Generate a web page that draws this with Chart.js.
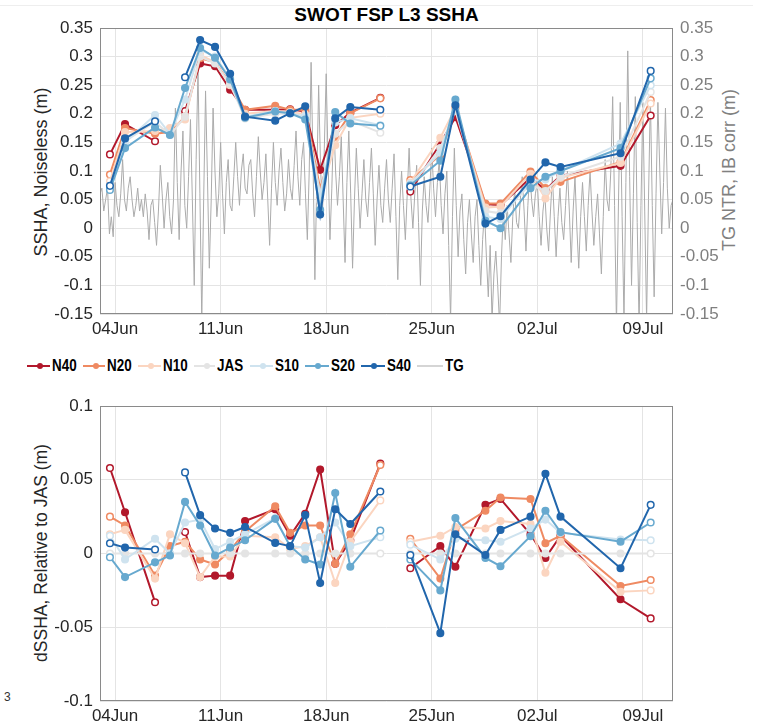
<!DOCTYPE html>
<html>
<head>
<meta charset="utf-8">
<script src="https://cdn.jsdelivr.net/npm/chart.js@4.4.1/dist/chart.umd.min.js"></script>
<style>
  body{margin:0;width:758px;height:728px;background:#fff;position:relative;overflow:hidden;font-family:"Liberation Sans",Arial,sans-serif;}
  canvas{position:absolute;left:0;}
  #c1{top:0;}
  #c2{top:380px;}
  .title{position:absolute;top:4px;left:100px;width:573px;text-align:center;font-weight:bold;font-size:19px;color:#000;line-height:22px;}
  .ylab{position:absolute;width:320px;height:22px;line-height:22px;text-align:center;white-space:nowrap;font-size:18px;transform:rotate(-90deg);}
  .legend{position:absolute;top:356px;left:27px;height:20px;display:flex;}
  .li{width:55.7px;display:flex;align-items:center;height:20px;}
  .li span{display:inline-block;font-family:"Liberation Sans",Arial,sans-serif;font-weight:bold;font-size:17px;color:#000;margin-left:2px;transform:scaleX(0.79);transform-origin:left center;}
  .topline{position:absolute;top:5px;left:0;width:753px;height:1px;background:#eeeeee;}
  .stray{position:absolute;left:4px;top:690px;font-size:12px;color:#333;}
</style>
</head>
<body>
<div class="topline"></div>
<div class="title">SWOT FSP L3 SSHA</div>
<div class="ylab" style="left:-119px;top:161px;color:#262626;">SSHA, Noiseless (m)</div>
<div class="ylab" style="left:569px;top:159px;color:#808080;">TG NTR, IB corr (m)</div>
<div class="ylab" style="left:-119px;top:542px;color:#262626;font-size:17.5px;">dSSHA, Relative to JAS (m)</div>
<div class="legend" id="legend"></div>
<div class="stray">3</div>
<canvas id="c1" width="758" height="345"></canvas>
<canvas id="c2" width="758" height="348"></canvas>
<script>
// ---------------- DATA ----------------
// x axis: days since 03 Jun 00:00
const dateTickDays   = [1, 8, 15, 22, 29, 36];
const dateTickLabels = ['04Jun','11Jun','18Jun','25Jun','02Jul','09Jul'];
const topTicks    = [-0.15,-0.1,-0.05,0,0.05,0.1,0.15,0.2,0.25,0.3,0.35];
const bottomTicks = [-0.1,-0.05,0,0.05,0.1];

// SWOT pass times (days since 03 Jun 00:00); 19.58 is a pass with no data (gap)
const passDays = [0.66,1.66,3.65,4.64,5.64,6.64,7.63,8.63,9.62,11.62,12.61,13.61,14.60,15.60,16.60,18.59,19.58,
                  20.58,22.57,23.57,25.56,26.56,28.55,29.54,30.54,34.52,36.52];

const seriesNames  = ['N40','N20','N10','JAS','S10','S20','S40'];
const seriesColors = ['#b2182b','#ef8a62','#fbd5c0','#e4e4e4','#cfe3ef','#67a9cf','#2166ac'];

// Top panel: SSHA, noiseless (m)
const sshaN40 = [0.129,0.182,0.152,null,0.205,0.288,0.283,0.242,0.207,0.207,0.208,0.204,0.102,0.180,0.202,0.228,null,0.064,0.148,0.194,0.042,0.040,0.088,0.067,0.092,0.109,0.197];
const sshaN20 = [0.094,0.175,0.165,0.168,0.195,0.297,0.290,0.253,0.207,0.214,0.207,0.207,0.069,0.160,0.201,0.227,null,0.084,0.128,0.210,0.043,0.043,0.099,0.070,0.081,0.116,0.224];
const sshaN10 = [0.082,0.168,0.170,0.175,0.190,0.303,0.290,0.250,0.200,0.205,0.203,0.199,0.058,0.145,0.193,0.200,null,0.080,0.158,0.210,0.036,0.038,0.095,0.052,0.088,0.114,0.218];
const sshaJAS = [0.068,0.152,0.186,0.163,0.195,0.300,0.288,0.252,0.192,0.200,0.200,0.195,0.048,0.165,0.188,0.167,null,0.072,0.140,0.205,0.030,0.026,0.076,0.065,0.090,0.125,0.238];
const sshaS10 = [0.072,0.150,0.198,0.165,0.225,0.312,0.300,0.262,0.195,0.205,0.200,0.196,0.060,0.185,0.192,0.180,null,0.078,0.132,0.218,0.020,0.016,0.082,0.085,0.100,0.148,0.250];
const sshaS20 = [0.067,0.140,0.176,0.163,0.245,0.315,0.298,0.260,0.193,0.204,0.201,0.190,0.032,0.203,0.183,0.179,null,0.075,0.118,0.225,0.013,0.000,0.070,0.090,0.100,0.140,0.262];
const sshaS40 = [0.074,0.157,0.187,null,0.264,0.329,0.317,0.270,0.195,0.188,0.201,0.213,0.024,0.192,0.212,0.207,null,0.073,0.090,0.215,0.008,0.021,0.085,0.115,0.107,0.131,0.275];

// Bottom panel: dSSHA relative to JAS (m)
const dN40 = [0.058,0.028,-0.033,null,0.0145,-0.016,-0.015,-0.015,0.022,0.030,0.012,0.027,0.057,-0.007,0.009,0.061,null,-0.010,0.005,-0.009,0.033,0.037,0.013,-0.003,0.012,-0.031,-0.044];
const dN20 = [0.025,0.019,-0.015,0.005,0.008,-0.004,-0.0075,0.002,0.015,0.032,0.014,0.019,0.019,-0.007,0.013,0.060,null,0.010,-0.017,0.016,0.029,0.038,0.037,0.007,0.012,-0.022,-0.018];
const dN10 = [0.013,0.016,-0.017,0.013,0.007,-0.016,-0.002,-0.002,0.012,0.011,0.003,0.005,0.011,-0.020,0.008,0.036,null,0.008,0.012,0.018,0.017,0.022,0.020,-0.013,0.008,-0.026,-0.025];
const dJAS = [0,0,0,0,0,0,0,0,0,0,0,0,0,0,0,0,null,0,0,0,0,0,0,0,0,0,0];
const dS10 = [0.012,-0.004,0.010,0.000,0.021,0.023,0.003,0.008,0.013,0.024,0.005,0.004,0.011,0.021,0.005,0.011,null,0.006,-0.004,0.010,0.009,0.008,0.017,0.023,0.014,0.0095,0.009];
const dS20 = [-0.0025,-0.016,-0.006,-0.0014,0.035,0.019,-0.0014,0.004,0.009,0.0235,0.005,-0.004,-0.0075,0.041,-0.009,0.0156,null,-0.004,-0.025,0.024,-0.003,-0.0086,0.0117,0.029,0.0145,0.008,0.021];
const dS40 = [0.007,0.004,0.0027,null,0.055,0.026,0.017,0.014,0.018,0.0072,0.005,0.026,-0.020,0.030,0.020,0.042,null,-0.001,-0.054,0.013,-0.001,0.016,0.025,0.054,0.025,-0.010,0.033];

// Tide gauge NTR (m), sampled every 3 hours from 03 Jun 00:00 (one row per day)
const tgStepDays = 0.125;
const tgValues = [
 0.06,0.07,0.03,0.05,0.07,-0.01,0.02,-0.015,
 0.08,0.04,0.02,0.06,0.12,0.05,0.03,0.07,
 0.09,0.05,0.02,0.04,0.07,0.03,0.05,0.02,
 0.06,0.03,-0.02,0.04,0.05,0.01,-0.03,0.03,
 0.11,0.06,0.00,0.05,0.08,0.02,-0.01,0.05,
 0.21,0.08,-0.02,0.10,0.17,0.04,0.00,0.09,
 0.19,0.05,-0.10,0.12,0.28,0.06,-0.16,0.05,
 0.24,0.09,-0.07,0.05,0.21,0.10,0.02,0.06,
 0.15,0.06,-0.01,0.08,0.12,0.04,0.03,0.09,
 0.15,0.09,0.04,0.10,0.13,0.07,0.06,0.11,
 0.12,0.06,0.02,0.09,0.16,0.10,0.05,0.08,
 0.13,0.05,-0.03,0.07,0.15,0.08,0.04,0.10,
 0.14,0.08,0.03,0.06,0.12,0.07,0.05,0.11,
 0.17,0.09,0.04,0.12,0.15,0.06,-0.02,0.10,
 0.29,0.12,-0.09,0.08,0.25,0.11,0.02,0.14,
 0.27,0.12,-0.02,0.07,0.19,0.10,0.04,0.09,
 0.16,0.05,-0.06,0.08,0.17,0.06,-0.07,0.05,
 0.14,0.07,0.00,0.06,0.12,0.05,0.02,0.08,
 0.14,0.06,-0.03,0.05,0.11,0.04,0.01,0.07,
 0.12,0.05,0.01,0.07,0.13,0.02,-0.09,0.04,
 0.10,0.04,-0.02,0.06,0.14,0.05,0.00,0.06,
 0.11,0.01,-0.10,0.03,0.09,0.04,0.01,0.07,
 0.14,0.07,0.02,0.08,0.12,0.04,-0.01,0.06,
 0.10,-0.03,-0.16,0.02,0.14,0.04,-0.05,0.03,
 0.06,-0.02,-0.08,0.01,0.05,-0.01,-0.06,0.02,
 0.05,-0.03,-0.10,-0.02,0.03,-0.05,-0.12,-0.03,
 -0.16,-0.08,-0.04,-0.10,-0.17,-0.05,0.03,-0.02,
 0.04,-0.01,-0.06,0.02,0.07,0.01,0.00,0.05,
 0.09,0.03,-0.04,0.04,0.10,0.05,0.02,0.06,
 0.08,0.02,-0.03,0.03,0.06,0.00,-0.04,0.03,
 0.09,0.02,-0.05,0.02,0.07,0.01,-0.02,0.04,
 0.10,0.03,-0.06,0.03,0.09,0.00,-0.07,0.02,
 0.08,0.02,-0.04,0.04,0.10,0.03,-0.03,0.02,
 0.06,-0.01,-0.08,0.02,0.12,0.05,0.03,0.10,
 0.23,0.04,-0.17,0.03,0.22,0.02,-0.16,0.08,
 0.31,0.09,-0.10,0.06,0.23,0.01,-0.17,0.04,
 0.22,0.03,-0.16,0.05,0.23,0.04,-0.12,0.06,
 0.22,0.10,-0.01,0.08,0.21,0.07,0.00,0.04,
 0.05
];

const topSeries    = [sshaN40,sshaN20,sshaN10,sshaJAS,sshaS10,sshaS20,sshaS40];
const bottomSeries = [dN40,dN20,dN10,dJAS,dS10,dS20,dS40];

// ---------------- BUILD ----------------
const FONT = '"Liberation Sans", Arial, sans-serif';
Chart.defaults.font.family = FONT;

function endpointFill(vals, color){
  return vals.map((v,i)=>{
    if(v===null) return color;
    const prev = i>0 ? vals[i-1] : null;
    const next = i<vals.length-1 ? vals[i+1] : null;
    return (prev===null || next===null) ? '#ffffff' : color;
  });
}
function seriesDatasets(list, yAxis){
  const ds = [];
  // S40 first so it is drawn on top
  for(let s=list.length-1; s>=0; s--){
    const vals = list[s], c = seriesColors[s];
    ds.push({
      label: seriesNames[s],
      data: vals.map((v,i)=>({x:passDays[i], y:v})),
      borderColor: c, backgroundColor: c,
      borderWidth: 2,
      pointRadius: 3.3, pointBorderWidth: 1.5,
      pointBorderColor: c,
      pointBackgroundColor: endpointFill(vals, c),
      spanGaps: false, tension: 0,
      yAxisID: yAxis
    });
  }
  return ds;
}
function fmt(v){ return String(Number(v.toFixed(2))); }

const boxPlugin = {
  id:'box',
  afterDraw(chart){
    const {ctx, chartArea:a} = chart;
    ctx.save();
    ctx.strokeStyle = '#8a8a8a';
    ctx.lineWidth = 1;
    ctx.strokeRect(Math.round(a.left)+0.5, Math.round(a.top)+0.5, Math.round(a.right-a.left)-1, Math.round(a.bottom-a.top)-1);
    ctx.restore();
  }
};

function xScale(h){
  return {
    type:'linear', min:0, max:38,
    afterBuildTicks: s => { s.ticks = dateTickDays.map(v=>({value:v})); },
    afterFit: s => { s.height = h; },
    ticks:{ autoSkip:false, maxRotation:0, padding:5, color:'#262626', font:{size:17},
      callback: v => { const i = dateTickDays.indexOf(v); return i>=0 ? dateTickLabels[i] : ''; } },
    grid:{ color:'#e4e4e4', drawTicks:false, lineWidth:1 },
    border:{ display:false }
  };
}
function yScale(min,max,ticks,pos,color,width,grid){
  return {
    type:'linear', min:min, max:max, position:pos,
    afterBuildTicks: s => { s.ticks = ticks.map(v=>({value:v})); },
    afterFit: s => { s.width = width; },
    ticks:{ padding:7, color:color, font:{size:17}, callback: v => fmt(v) },
    grid:{ color:'#e4e4e4', drawTicks:false, drawOnChartArea:grid, lineWidth:1 },
    border:{ display:false }
  };
}

// top chart
const topDs = seriesDatasets(topSeries, 'y');
topDs.push({
  label:'TG',
  data: tgValues.map((v,i)=>({x:i*tgStepDays, y:v})),
  borderColor:'#ababab', borderWidth:1, pointRadius:0, tension:0,
  yAxisID:'y2'
});
new Chart(document.getElementById('c1'), {
  type:'line',
  data:{ datasets: topDs },
  options:{
    responsive:false, animation:false, devicePixelRatio:1,
    layout:{ padding:{ top:28, left:0, right:0, bottom:0 } },
    plugins:{ legend:{display:false}, tooltip:{enabled:false}, title:{display:false} },
    scales:{
      x: xScale(31),
      y: yScale(-0.15,0.35,topTicks,'left','#262626',100,true),
      y2: yScale(-0.15,0.35,topTicks,'right','#7f7f7f',85,false)
    }
  },
  plugins:[boxPlugin]
});

// bottom chart
new Chart(document.getElementById('c2'), {
  type:'line',
  data:{ datasets: seriesDatasets(bottomSeries, 'y') },
  options:{
    responsive:false, animation:false, devicePixelRatio:1,
    layout:{ padding:{ top:26, left:0, right:85, bottom:0 } },
    plugins:{ legend:{display:false}, tooltip:{enabled:false} },
    scales:{
      x: xScale(27),
      y: yScale(-0.1,0.1,bottomTicks,'left','#262626',100,true)
    }
  },
  plugins:[boxPlugin]
});

// legend (HTML)
const legend = document.getElementById('legend');
const legendNames = seriesNames.concat(['TG']);
const legendColors = seriesColors.concat(['#ababab']);
legendNames.forEach((n,i)=>{
  const d = document.createElement('div'); d.className='li';
  const marker = i<seriesNames.length ? `<circle cx="13" cy="6" r="3" fill="${legendColors[i]}"/>` : '';
  const lw = i<seriesNames.length ? 2 : 1;
  d.innerHTML = `<svg width="26" height="12"><line x1="0" y1="6" x2="26" y2="6" stroke="${legendColors[i]}" stroke-width="${lw}"/>${marker}</svg><span>${n}</span>`;
  legend.appendChild(d);
});
</script>
</body>
</html>
